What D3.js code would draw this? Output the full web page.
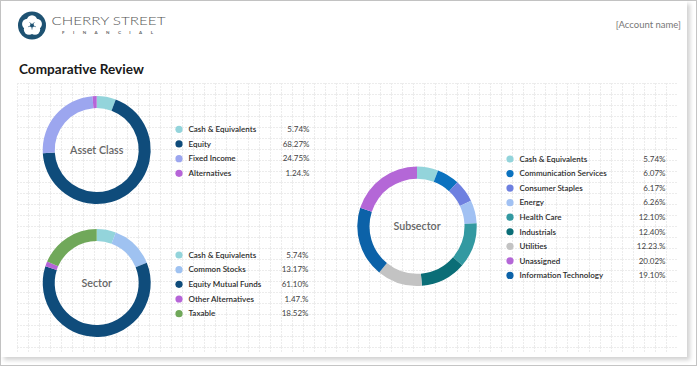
<!DOCTYPE html>
<html><head><meta charset="utf-8">
<script src="https://cdn.jsdelivr.net/npm/d3@7/dist/d3.min.js"></script>
<style>
html,body{margin:0;padding:0;background:#fff;}
svg{display:block;font-family:Lato, "Noto Sans", sans-serif;}
</style></head>
<body><svg id="c" width="697" height="366"></svg>
<script>
// ---- data ----
const assetLabels = ["Cash & Equivalents","Equity","Fixed Income","Alternatives"];
const assetValues = [5.74, 68.27, 24.75, 1.24];
const assetColors = ["#93d4db","#0f4c7b","#9ca6ef","#b665d8"];
const assetValueText = ["5.74%","68.27%","24.75%","1.24.%"];

const sectorLabels = ["Cash & Equivalents","Common Stocks","Equity Mutual Funds","Other Alternatives","Taxable"];
const sectorValues = [5.74, 13.17, 61.10, 1.47, 18.52];
const sectorColors = ["#93d4db","#9fc2f1","#0f4c7b","#b665d8","#70a85a"];
const sectorValueText = ["5.74%","13.17%","61.10%","1.47.%","18.52%"];

const subLabels = ["Cash & Equivalents","Communication Services","Consumer Staples","Energy","Health Care","Industrials","Utilities","Unassigned","Information Technology"];
const subValues = [5.74, 6.07, 6.17, 6.26, 12.10, 12.40, 12.23, 20.02, 19.10];
const subValueText = ["5.74%","6.07%","6.17%","6.26%","12.10%","12.40%","12.23.%","20.02%","19.10%"];
const subColors = ["#93d4db","#0b72bf","#6e80e0","#a1c1f3","#3399a1","#0b6e77","#c3c3c3","#b467d7","#0c62a8"];
const subDrawOrder = [0,1,2,3,4,5,6,8,7];

const svg = d3.select("#c");

// outer frame + card
svg.append("rect").attr("x",0.5).attr("y",0.5).attr("width",696).attr("height",365).attr("fill","#fff").attr("stroke","#c4c4c4");
const defs = svg.append("defs");
const f = defs.append("filter").attr("id","sh").attr("x","-5%").attr("y","-5%").attr("width","115%").attr("height","115%");
f.append("feDropShadow").attr("dx",3).attr("dy",3).attr("stdDeviation",2).attr("flood-color","#000").attr("flood-opacity",0.18);
svg.append("rect").attr("x",1).attr("y",1).attr("width",686).attr("height",356).attr("fill","#fff").attr("filter","url(#sh)");

// grid
const pat = defs.append("pattern").attr("id","grid").attr("patternUnits","userSpaceOnUse")
  .attr("x",17).attr("y",83).attr("width",11).attr("height",11);
pat.append("path").attr("d","M0,0.5H11M0.5,0V11").attr("stroke","#ececec").attr("stroke-width",1)
  .attr("stroke-dasharray","2,1").attr("fill","none");
svg.append("rect").attr("x",17).attr("y",83).attr("width",660).attr("height",269).attr("fill","url(#grid)");

// logo
const logo = svg.append("g").attr("transform","translate(32,25.5)");
logo.append("circle").attr("r",14).attr("fill","#1e5272");
for (let i=0;i<5;i++){
  const a = (i*72-90)*Math.PI/180;
  logo.append("circle").attr("cx",Math.cos(a)*5).attr("cy",Math.sin(a)*5).attr("r",5.2).attr("fill","#fff");
}
logo.append("circle").attr("r",2).attr("fill","#1e5272");
for (let i=0;i<5;i++){
  const a = (i*72-54)*Math.PI/180;
  logo.append("line").attr("x1",0).attr("y1",0).attr("x2",Math.cos(a)*4).attr("y2",Math.sin(a)*4).attr("stroke","#1e5272").attr("stroke-width",0.7);
}
svg.append("text").attr("x",51.5).attr("y",25).attr("font-size",11.6).attr("font-weight",300)
  .attr("fill","#555").attr("textLength",114).attr("lengthAdjust","spacingAndGlyphs").text("CHERRY STREET");
svg.append("text").attr("x",62).attr("y",33.5).attr("font-size",4.5).attr("font-weight",700)
  .attr("fill","#666").attr("textLength",91).text("FINANCIAL");

svg.append("text").attr("x",681).attr("y",28).attr("text-anchor","end").attr("font-size",9.5)
  .attr("fill","#777").text("[Account name]");

svg.append("text").attr("x",19).attr("y",73.5).attr("font-size",13.6).attr("font-weight",700)
  .attr("fill","#1a1a1a").text("Comparative Review");

// donut function
function donut(cx, cy, rOut, rIn, values, colors, order, label){
  const data = order.map(i => ({v: values[i], c: colors[i]}));
  const pie = d3.pie().sort(null).value(d => d.v);
  const arc = d3.arc().innerRadius(rIn).outerRadius(rOut);
  const g = svg.append("g").attr("transform",`translate(${cx},${cy})`);
  g.selectAll("path").data(pie(data)).join("path").attr("d",arc).attr("fill",d=>d.data.c);
  g.append("text").attr("text-anchor","middle").attr("dy","0.35em").attr("font-size",10.7)
    .attr("fill","#666").attr("font-weight",600).text(label);
}
function legend(x, y0, step, right, labels, texts, colors){
  const y = d3.scalePoint().domain(d3.range(labels.length)).range([y0, y0 + step*(labels.length-1)]);
  const g = svg.append("g");
  labels.forEach((l,i)=>{
    g.append("circle").attr("cx",x).attr("cy",y(i)).attr("r",3.6).attr("fill",colors[i]);
    g.append("text").attr("x",x+9.5).attr("y",y(i)).attr("dy","0.35em").attr("font-size",8)
      .attr("fill","#2b2b2b").attr("font-weight",600).text(l);
    g.append("text").attr("x",right).attr("y",y(i)).attr("dy","0.35em").attr("text-anchor","end")
      .attr("font-size",8).attr("fill","#444").text(texts[i]);
  });
}

donut(96.7, 150, 54, 42, assetValues, assetColors, d3.range(4), "Asset Class");
legend(179, 129.3, 14.67, 309.5, assetLabels, assetValueText, assetColors);

donut(96.7, 283, 54, 42, sectorValues, sectorColors, d3.range(5), "Sector");
legend(179, 255, 14.67, 308.5, sectorLabels, sectorValueText, sectorColors);

donut(417, 226.3, 59.7, 47.5, subValues, subColors, subDrawOrder, "Subsector");
legend(510, 159, 14.55, 665.5, subLabels, subValueText, subColors);
</script></body></html>
